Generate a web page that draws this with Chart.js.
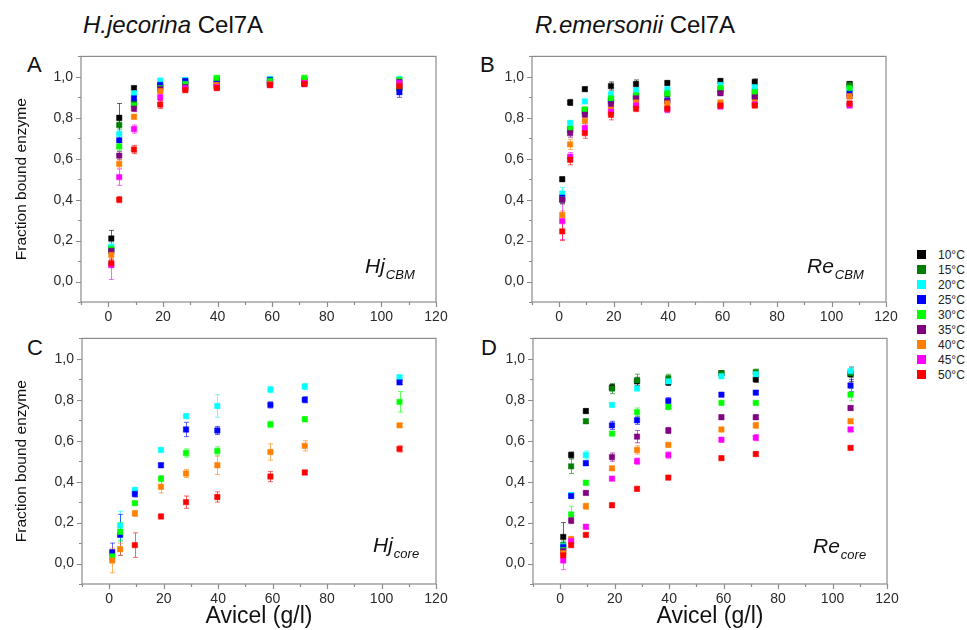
<!DOCTYPE html>
<html>
<head>
<meta charset="utf-8">
<script src="https://cdn.jsdelivr.net/npm/chart.js@4.4.0/dist/chart.umd.min.js"></script>
<style>
  body { margin: 0; width: 967px; height: 630px; overflow: hidden; background: #fff; position: relative;
         font-family: 'Liberation Sans', Arial, sans-serif; color: #111; }
  .panel { position: absolute; }
  .title { position: absolute; font-size: 24px; line-height: 1; white-space: nowrap; }
  .letter { position: absolute; font-size: 22px; line-height: 1; }
  .tag { position: absolute; font-size: 21px; line-height: 1; font-style: italic; white-space: nowrap; }
  .tag sub { font-size: 13px; vertical-align: -6px; margin-left: 1px; }
  .legend { position: absolute; left: 915px; top: 247px; font-size: 12px; color: #222; }
  .legend div { height: 15px; display: flex; align-items: center; }
  .legend span.sw { width: 9px; height: 9px; margin: 0 12px 0 2px; display: inline-block; }
</style>
</head>
<body>
<div class="title" style="left:83px;top:13px"><i>H.jecorina</i> Cel7A</div>
<div class="title" style="left:535px;top:13px"><i>R.emersonii</i> Cel7A</div>
<div class="letter" style="left:27px;top:54px">A</div>
<div class="letter" style="left:480px;top:54px">B</div>
<div class="letter" style="left:27px;top:337px">C</div>
<div class="letter" style="left:481px;top:337px">D</div>

<div class="panel" style="left:0;top:40px;width:460px;height:290px"><canvas id="chartA"></canvas></div>
<div class="panel" style="left:480px;top:40px;width:430px;height:290px"><canvas id="chartB"></canvas></div>
<div class="panel" style="left:0;top:322px;width:460px;height:308px"><canvas id="chartC"></canvas></div>
<div class="panel" style="left:481px;top:322px;width:430px;height:308px"><canvas id="chartD"></canvas></div>

<div class="tag" style="left:365px;top:255px">Hj<sub>CBM</sub></div>
<div class="tag" style="left:807px;top:255px">Re<sub>CBM</sub></div>
<div class="tag" style="left:373px;top:534px">Hj<sub>core</sub></div>
<div class="tag" style="left:813px;top:535px">Re<sub>core</sub></div>

<div class="legend" id="legend"></div>

<script>
const temps = ['10°C', '15°C', '20°C', '25°C', '30°C', '35°C', '40°C', '45°C', '50°C'];
const colors = ['#000000', '#008000', '#00ffff', '#0000ff', '#00ff00', '#800080', '#ff8000', '#ff00ff', '#ff0000'];
const avicel = [1.1, 4, 9.4, 19, 28.2, 39.7, 59.2, 71.8, 106.6];
const xTicks = [0, 20, 40, 60, 80, 100, 120];
const yTicks = [0, 0.2, 0.4, 0.6, 0.8, 1.0];

// rows follow temps: 10, 15, 20 ... 50 °C
const hjCbmValues = [
    [0.21, 0.80, 0.945, 0.955, 0.975, 0.97, 0.975, 0.975, 0.945],
    [0.16, 0.765, 0.87, 0.95, 0.96, 0.97, 0.97, 0.985, 0.95],
    [0.17, 0.72, 0.92, 0.98, 0.985, 0.99, 0.99, 0.99, 0.99],
    [0.15, 0.69, 0.895, 0.96, 0.98, 0.985, 0.985, 0.98, 0.925],
    [0.16, 0.66, 0.86, 0.945, 0.965, 0.995, 0.98, 0.995, 0.985],
    [0.15, 0.615, 0.845, 0.94, 0.95, 0.955, 0.965, 0.965, 0.975],
    [0.13, 0.575, 0.805, 0.93, 0.94, 0.96, 0.965, 0.97, 0.96],
    [0.08, 0.51, 0.745, 0.90, 0.945, 0.95, 0.96, 0.97, 0.97],
    [0.09, 0.40, 0.645, 0.865, 0.935, 0.945, 0.96, 0.965, 0.955]
];
const hjCbmErrors = [
    [0.04, 0.07, 0.01, 0.01, 0.01, 0.01, 0.01, 0.01, 0.015],
    [0.02, 0.02, 0.01, 0.01, 0.01, 0.01, 0.01, 0.01, 0.01],
    [0.02, 0.02, 0.01, 0.015, 0.01, 0.01, 0.01, 0.01, 0.01],
    [0.02, 0.03, 0.01, 0.01, 0.01, 0.01, 0.01, 0.01, 0.025],
    [0.02, 0.02, 0.01, 0.01, 0.01, 0.01, 0.01, 0.01, 0.01],
    [0.02, 0.02, 0.015, 0.01, 0.01, 0.01, 0.01, 0.01, 0.01],
    [0.02, 0.02, 0.01, 0.01, 0.01, 0.01, 0.01, 0.01, 0.01],
    [0.07, 0.04, 0.02, 0.015, 0.01, 0.01, 0.01, 0.01, 0.01],
    [0.02, 0.015, 0.02, 0.02, 0.01, 0.01, 0.01, 0.01, 0.01]
];

const reCbmValues = [
    [0.50, 0.875, 0.94, 0.955, 0.965, 0.97, 0.98, 0.975, 0.965],
    [0.40, 0.745, 0.84, 0.89, 0.905, 0.915, 0.94, 0.93, 0.96],
    [0.43, 0.775, 0.88, 0.915, 0.935, 0.94, 0.96, 0.95, 0.94],
    [0.41, 0.74, 0.83, 0.88, 0.90, 0.885, 0.925, 0.905, 0.92],
    [0.40, 0.745, 0.84, 0.895, 0.91, 0.92, 0.945, 0.925, 0.945],
    [0.40, 0.725, 0.815, 0.865, 0.895, 0.88, 0.92, 0.90, 0.905],
    [0.325, 0.67, 0.785, 0.84, 0.875, 0.87, 0.875, 0.875, 0.905],
    [0.295, 0.61, 0.75, 0.83, 0.86, 0.84, 0.855, 0.865, 0.86],
    [0.245, 0.595, 0.725, 0.815, 0.845, 0.845, 0.86, 0.86, 0.87]
];
const reCbmErrors = [
    [0.01, 0.015, 0.01, 0.02, 0.02, 0.01, 0.01, 0.015, 0.01],
    [0.02, 0.015, 0.01, 0.01, 0.01, 0.01, 0.01, 0.01, 0.01],
    [0.03, 0.01, 0.01, 0.015, 0.01, 0.01, 0.01, 0.01, 0.01],
    [0.02, 0.01, 0.01, 0.01, 0.01, 0.01, 0.01, 0.01, 0.01],
    [0.02, 0.01, 0.01, 0.01, 0.01, 0.01, 0.01, 0.01, 0.01],
    [0.02, 0.02, 0.01, 0.01, 0.015, 0.01, 0.01, 0.01, 0.01],
    [0.02, 0.025, 0.01, 0.015, 0.01, 0.01, 0.01, 0.01, 0.01],
    [0.09, 0.02, 0.02, 0.015, 0.015, 0.015, 0.01, 0.01, 0.01],
    [0.045, 0.025, 0.025, 0.025, 0.015, 0.01, 0.01, 0.01, 0.01]
];

const hjCoreValues = [
    [],
    [],
    [0.03, 0.185, 0.36, 0.555, 0.72, 0.77, 0.85, 0.865, 0.91],
    [0.055, 0.14, 0.34, 0.48, 0.655, 0.65, 0.775, 0.80, 0.885],
    [0.035, 0.155, 0.295, 0.415, 0.54, 0.55, 0.68, 0.705, 0.79],
    [],
    [0.015, 0.07, 0.245, 0.375, 0.44, 0.48, 0.545, 0.575, 0.675],
    [],
    [null, null, 0.09, 0.23, 0.30, 0.325, 0.425, 0.445, 0.56]
];
const hjCoreErrors = [
    [],
    [],
    [0.02, 0.07, 0.01, 0.01, 0.01, 0.055, 0.015, 0.015, 0.01],
    [0.045, 0.1, 0.015, 0.01, 0.035, 0.02, 0.015, 0.015, 0.01],
    [0.03, 0.045, 0.01, 0.015, 0.02, 0.02, 0.015, 0.01, 0.05],
    [],
    [0.06, 0.03, 0.015, 0.03, 0.02, 0.045, 0.04, 0.025, 0.01],
    [],
    [0, 0, 0.06, 0.01, 0.03, 0.025, 0.025, 0.01, 0.015]
];

const reCoreValues = [
    [0.13, 0.53, 0.745, 0.86, 0.89, 0.885, 0.93, 0.90, 0.925],
    [0.09, 0.475, 0.695, 0.855, 0.895, 0.905, 0.93, 0.935, 0.93],
    [0.085, 0.335, 0.53, 0.775, 0.855, 0.89, 0.915, 0.925, 0.94],
    [0.08, 0.33, 0.49, 0.675, 0.70, 0.795, 0.825, 0.835, 0.87],
    [0.065, 0.24, 0.395, 0.635, 0.74, 0.765, 0.785, 0.785, 0.825],
    [0.06, 0.21, 0.345, 0.52, 0.62, 0.65, 0.715, 0.715, 0.76],
    [0.05, 0.12, 0.28, 0.465, 0.555, 0.58, 0.655, 0.675, 0.695],
    [0.015, 0.11, 0.18, 0.415, 0.50, 0.53, 0.605, 0.615, 0.655],
    [0.04, 0.09, 0.14, 0.285, 0.365, 0.42, 0.515, 0.535, 0.565]
];
const reCoreErrors = [
    [0.07, 0.015, 0.01, 0.015, 0.02, 0.015, 0.01, 0.015, 0.035],
    [0.02, 0.035, 0.01, 0.025, 0.03, 0.02, 0.01, 0.015, 0.02],
    [0.02, 0.01, 0.02, 0.01, 0.01, 0.015, 0.01, 0.01, 0.02],
    [0.02, 0.01, 0.01, 0.02, 0.02, 0.015, 0.01, 0.01, 0.03],
    [0.02, 0.04, 0.01, 0.01, 0.02, 0.01, 0.01, 0.01, 0.03],
    [0.02, 0.015, 0.01, 0.02, 0.03, 0.015, 0.01, 0.01, 0.01],
    [0.02, 0.01, 0.015, 0.01, 0.02, 0.01, 0.01, 0.015, 0.01],
    [0.045, 0.01, 0.01, 0.01, 0.015, 0.015, 0.01, 0.015, 0.01],
    [0.02, 0.01, 0.01, 0.01, 0.01, 0.01, 0.01, 0.01, 0.01]
];

const FONT = "'Liberation Sans', Arial, sans-serif";

function fade(hex, a) {
    const n = parseInt(hex.slice(1), 16);
    return `rgba(${(n >> 16) & 255}, ${(n >> 8) & 255}, ${n & 255}, ${a})`;
}

// error bars under the points, box frame and minor ticks on top
const errorsAndFrame = {
    id: 'errorsAndFrame',
    beforeDatasetsDraw(chart) {
        const { ctx, scales: { x, y } } = chart;
        ctx.save();
        ctx.lineWidth = 1;
        chart.data.datasets.forEach(ds => {
            ctx.strokeStyle = ds.errColor;
            ds.data.forEach(p => {
                if (!p.e) return;
                const px = Math.round(x.getPixelForValue(p.x)) + 0.5;
                const top = y.getPixelForValue(p.y + p.e);
                const bot = y.getPixelForValue(p.y - p.e);
                ctx.beginPath();
                ctx.moveTo(px, top); ctx.lineTo(px, bot);
                ctx.moveTo(px - 2.5, top); ctx.lineTo(px + 2.5, top);
                ctx.moveTo(px - 2.5, bot); ctx.lineTo(px + 2.5, bot);
                ctx.stroke();
            });
        });
        ctx.restore();
    },
    afterDraw(chart) {
        const { ctx, chartArea: a, scales: { x, y } } = chart;
        ctx.save();
        ctx.strokeStyle = '#8c8c8c';
        ctx.lineWidth = 1.2;
        ctx.strokeRect(a.left, a.top, a.right - a.left, a.bottom - a.top);
        ctx.beginPath();
        for (let v = -10; v <= 120; v += 10) {
            const px = Math.round(x.getPixelForValue(v)) + 0.5;
            ctx.moveTo(px, a.bottom);
            ctx.lineTo(px, a.bottom + (v % 20 === 0 ? 5 : 3));
        }
        for (let k = -1; k <= 11; k++) {
            const py = Math.round(y.getPixelForValue(k / 10)) + 0.5;
            ctx.moveTo(a.left, py);
            ctx.lineTo(a.left - (k % 2 === 0 ? 5 : 3), py);
        }
        ctx.stroke();
        ctx.restore();
    }
};

function makePanel(id, values, errors, yWidth, xHeight, showYTitle, showXTitle) {
    const datasets = [];
    temps.forEach((t, i) => {
        if (!values[i].length) return;
        const pts = [];
        avicel.forEach((xv, j) => {
            if (values[i][j] == null) return;
            pts.push({ x: xv, y: values[i][j], e: errors[i][j] || 0 });
        });
        datasets.push({
            label: t,
            data: pts,
            order: -i,           // later temperatures are drawn on top
            backgroundColor: colors[i],
            borderColor: colors[i],
            errColor: fade(colors[i], 0.6),
            pointStyle: 'rect',
            pointRadius: 3.8,
            borderWidth: 0.5
        });
    });

    return new Chart(document.getElementById(id), {
        type: 'scatter',
        data: { datasets },
        options: {
            responsive: true,
            maintainAspectRatio: false,
            animation: false,
            layout: { padding: { top: 12, right: 24, left: 0, bottom: 0 } },
            plugins: { legend: { display: false }, tooltip: { enabled: false } },
            scales: {
                x: {
                    type: 'linear', min: -10, max: 120,
                    afterBuildTicks: s => { s.ticks = xTicks.map(v => ({ value: v })); },
                    afterFit: s => { s.height = xHeight; },
                    grid: { display: false, drawTicks: false },
                    border: { display: false },
                    ticks: { padding: 7, color: '#2a2a2a', font: { family: FONT, size: 14 }, maxRotation: 0, autoSkip: false },
                    title: { display: showXTitle, text: 'Avicel (g/l)', color: '#111',
                             font: { family: FONT, size: 23 }, padding: { top: 2, bottom: 0 } }
                },
                y: {
                    type: 'linear', min: -0.1, max: 1.1,
                    afterBuildTicks: s => { s.ticks = yTicks.map(v => ({ value: v })); },
                    afterFit: s => { s.width = yWidth; },
                    grid: { display: false, drawTicks: false },
                    border: { display: false },
                    ticks: { padding: 8, color: '#2a2a2a', font: { family: FONT, size: 14 },
                             callback: v => v.toFixed(1).replace('.', ',') },
                    title: { display: showYTitle, text: 'Fraction bound enzyme', color: '#111',
                             font: { family: FONT, size: 15.5 }, padding: { top: 12, bottom: 0 } }
                }
            }
        },
        plugins: [errorsAndFrame]
    });
}

makePanel('chartA', hjCbmValues, hjCbmErrors, 81, 28, true, false);
makePanel('chartB', reCbmValues, reCbmErrors, 52, 28, false, false);
makePanel('chartC', hjCoreValues, hjCoreErrors, 82, 46, true, true);
makePanel('chartD', reCoreValues, reCoreErrors, 52, 46, false, true);

const legend = document.getElementById('legend');
temps.forEach((t, i) => {
    const row = document.createElement('div');
    row.innerHTML = `<span class="sw" style="background:${colors[i]}"></span>${t}`;
    legend.appendChild(row);
});
</script>
</body>
</html>
